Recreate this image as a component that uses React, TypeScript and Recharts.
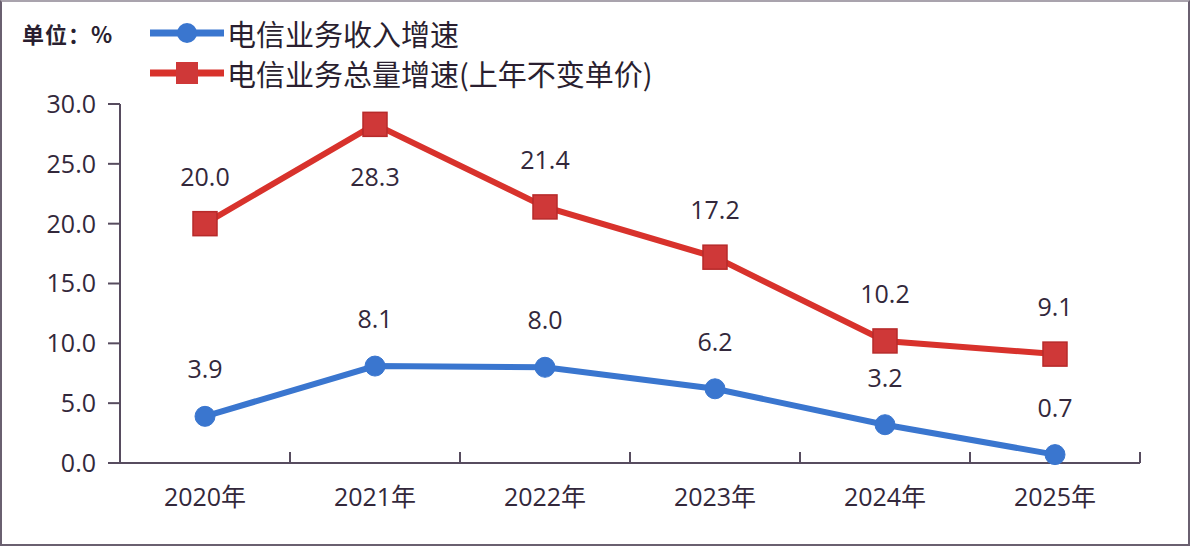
import React from 'react';
import { LineChart, Line, XAxis, YAxis } from 'recharts';

const years = ['2020年', '2021年', '2022年', '2023年', '2024年', '2025年'];
const revenueGrowth = [3.9, 8.1, 8.0, 6.2, 3.2, 0.7];
const volumeGrowth = [20.0, 28.3, 21.4, 17.2, 10.2, 9.1];
const seriesNames = ['电信业务收入增速', '电信业务总量增速(上年不变单价)'];
const yTicks = [0, 5, 10, 15, 20, 25, 30];
const unitLabel = '单位：%';

const BLUE = '#3a76cf';
const RED = '#d8322c';
const AXIS = '#574c5f';
const TEXT = '#33283b';
const NUM_FONT = '"Open Sans", "Noto Sans CJK SC", sans-serif';

const rows = years.map((year, i) => ({
  i,
  year,
  revenue: revenueGrowth[i],
  volume: volumeGrowth[i],
}));

// ticks at category centres (labels) and between categories (tick marks)
const xTicks: number[] = [];
for (let k = -0.5; k <= years.length - 0.5; k += 0.5) xTicks.push(k);

const XTick = (props: any) => {
  const { x, y, payload } = props;
  const v = payload.value as number;
  if (Number.isInteger(v)) {
    return (
      <text x={x} y={y + 43} textAnchor="middle" fontSize={25} fill={TEXT} fontFamily={NUM_FONT}>
        {years[v]}
      </text>
    );
  }
  return <line x1={x} x2={x} y1={y} y2={y - 11} stroke={AXIS} strokeWidth={2} />;
};

const PointLabel = (props: any) => {
  const { x, y, value } = props;
  // the topmost point has its label underneath so it stays inside the plot
  const below = value > 25;
  return (
    <text
      x={x}
      y={below ? y + 62 : y - 38}
      textAnchor="middle"
      fontSize={25}
      fill={TEXT}
      fontFamily={NUM_FONT}
    >
      {value.toFixed(1)}
    </text>
  );
};

const SquareDot = (props: any) => {
  const { cx, cy } = props;
  if (cx == null || cy == null) return null;
  return <rect x={cx - 12} y={cy - 12} width={24} height={24} fill="#cf3838" stroke="#b72a2a" strokeWidth={1.5} />;
};

const LegendRow = ({ color, square, label, top }: { color: string; square: boolean; label: string; top: number }) => (
  <div style={{ position: 'absolute', left: 146, top, display: 'flex', alignItems: 'center', height: 40 }}>
    <svg width={78} height={30}>
      <line x1={2} x2={76} y1={15} y2={15} stroke={color} strokeWidth={7} />
      {square ? (
        <rect x={28} y={4} width={22} height={22} fill="#cf3838" />
      ) : (
        <circle cx={39} cy={15} r={10} fill={color} />
      )}
    </svg>
    <span style={{ fontFamily: '"Noto Sans CJK SC", sans-serif', fontSize: 29, color: '#2a1f30', marginLeft: 1, lineHeight: '40px' }}>
      {label}
    </span>
  </div>
);

export default function App() {
  return (
    <div
      style={{
        position: 'relative',
        width: 1190,
        height: 546,
        boxSizing: 'border-box',
        border: '2px solid #6a6070',
        borderTopColor: '#a9a3ad',
        background: '#fff',
        fontFamily: '"Noto Sans CJK SC", sans-serif',
      }}
    >
      <style>{'body{margin:0}'}</style>
      <div
        style={{
          position: 'absolute',
          left: 20,
          top: 12,
          fontSize: 22,
          fontWeight: 700,
          color: '#2a1f30',
          lineHeight: '38px',
          letterSpacing: 1,
        }}
      >
        {unitLabel}
      </div>
      <LegendRow color={BLUE} square={false} label={seriesNames[0]} top={11} />
      <LegendRow color={RED} square label={seriesNames[1]} top={51} />
      <LineChart width={1186} height={542} data={rows} margin={{ top: 102, right: 48, bottom: 0, left: 0 }}>
        <XAxis
          dataKey="i"
          type="number"
          domain={[-0.5, years.length - 0.5]}
          ticks={xTicks}
          interval={0}
          tickLine={false}
          tickSize={0}
          tickMargin={0}
          tick={<XTick />}
          axisLine={{ stroke: AXIS, strokeWidth: 2 }}
          height={81}
        />
        <YAxis
          domain={[0, 30]}
          ticks={yTicks}
          interval={0}
          width={118}
          tickFormatter={(v: number) => v.toFixed(1)}
          tickSize={12}
          tickMargin={12}
          tick={{ fontSize: 25, fill: TEXT, fontFamily: NUM_FONT }}
          tickLine={{ stroke: AXIS, strokeWidth: 2 }}
          axisLine={{ stroke: AXIS, strokeWidth: 2 }}
        />
        <Line
          dataKey="volume"
          name={seriesNames[1]}
          stroke={RED}
          strokeWidth={6}
          dot={<SquareDot />}
          activeDot={false}
          label={<PointLabel />}
          isAnimationActive={false}
        />
        <Line
          dataKey="revenue"
          name={seriesNames[0]}
          stroke={BLUE}
          strokeWidth={6}
          dot={{ r: 10, fill: BLUE, stroke: BLUE, strokeWidth: 1 }}
          activeDot={false}
          label={<PointLabel />}
          isAnimationActive={false}
        />
      </LineChart>
    </div>
  );
}
